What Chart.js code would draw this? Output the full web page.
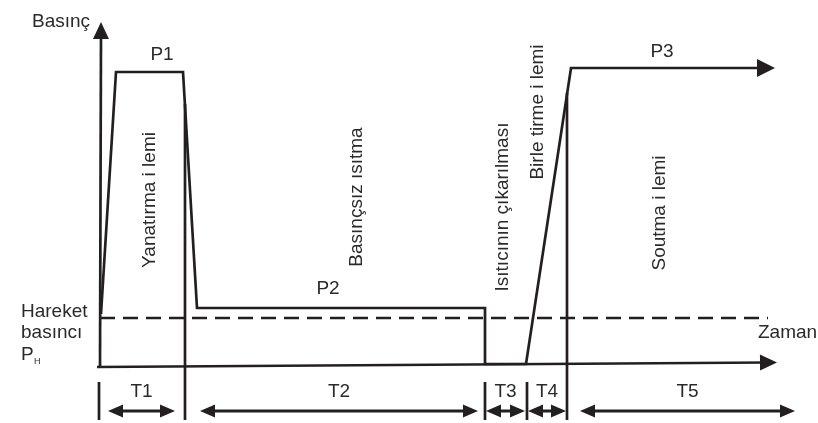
<!DOCTYPE html>
<html>
<head>
<meta charset="utf-8">
<script src="https://cdn.jsdelivr.net/npm/chart.js@4/dist/chart.umd.min.js"></script>
<style>
  html, body { margin: 0; padding: 0; background: #fff; }
  #wrap { width: 818px; height: 423px; }
</style>
</head>
<body>
<div id="wrap"><canvas id="weldChart"></canvas></div>
<script>
// Pressure profile (time units, pressure units)
const curveTime = [1, 16, 83, 97, 385, 385, 426, 471, 665];
const curvePressure = [52, 294, 294, 58, 58, 2, 2, 298, 298];

// axes of the diagram
const timeAxisT = [-3, 668];
const timeAxisP = [-1, 3.5];
const pressAxisT = [0, 1];
const pressAxisP = [-1, 335];

// hareket basinci (dashed)
const dragT = [0, 668];
const dragP = [48, 48];

// phase borders
const borderT = [85, 467];
const borderTop = [262, 273];
const tickT = [-1, 385, 427];
const tickTop = -16, borderBottom = -54;

// time spans under the axis
const spanLabels = ['T1', 'T2', 'T3', 'T4', 'T5'];
const spanStart = [8, 100, 386, 428, 480];
const spanEnd = [75, 378, 425, 466, 695];
const spanP = -45;

const phaseLabels = ['Yanatırma i lemi', 'Basınçsız ısıtma', 'Isıtıcının çıkarılması', 'Birle tirme i lemi', 'Soutma i lemi'];
const phaseT = [50, 257, 403, 438, 560];
const phaseP = [166, 169, 159, 254, 153];

const INK = '#231f20';
const FONT = '"Liberation Sans", Arial, sans-serif';

function xy(ts, ps) { return ts.map((t, i) => ({x: t, y: ps[i]})); }

function seg(data, extra) {
    return Object.assign({
        type: 'line', data: data, showLine: true, borderColor: INK, borderWidth: 2.7,
        pointRadius: 0, tension: 0, fill: false, borderCapStyle: 'butt', borderJoinStyle: 'miter'
    }, extra || {});
}

const datasets = [];
datasets.push(seg(xy(curveTime, curvePressure)));
datasets.push(seg(xy(timeAxisT, timeAxisP)));
datasets.push(seg(xy(pressAxisT, pressAxisP)));
datasets.push(seg(xy(dragT, dragP), {borderDash: [15, 8], borderWidth: 2.6}));
borderT.forEach((t, i) => datasets.push(seg([{x: t, y: borderTop[i]}, {x: t, y: borderBottom}])));
tickT.forEach(t => datasets.push(seg([{x: t, y: tickTop}, {x: t, y: borderBottom}])));
spanStart.forEach((s, i) => datasets.push(seg([{x: s + 6, y: spanP}, {x: spanEnd[i] - 6, y: spanP}], {borderWidth: 3})));

function head(ctx, x0, y0, x1, y1, len, half) {
    // tip at (x1,y1), pointing away from (x0,y0)
    const a = Math.atan2(y1 - y0, x1 - x0);
    ctx.save();
    ctx.translate(x1, y1);
    ctx.rotate(a);
    ctx.beginPath();
    ctx.moveTo(0, 0);
    ctx.lineTo(-len, -half);
    ctx.lineTo(-len, half);
    ctx.closePath();
    ctx.fill();
    ctx.restore();
}

const decor = {
    id: 'decor',
    afterDatasetsDraw(chart) {
        const {ctx, scales: {x, y}} = chart;
        const px = t => x.getPixelForValue(t), py = p => y.getPixelForValue(p);
        ctx.save();
        ctx.fillStyle = INK;

        // arrow heads
        head(ctx, px(pressAxisT[0]), py(pressAxisP[0]), px(pressAxisT[1]), py(pressAxisP[1]) - 9, 17, 8);
        head(ctx, px(timeAxisT[0]), py(timeAxisP[0]), px(timeAxisT[1]) + 9, py(timeAxisP[1]) - 0.1, 17, 8);
        const n = curveTime.length - 1;
        head(ctx, px(curveTime[n - 1]), py(curvePressure[n - 1]), px(curveTime[n]) + 10, py(curvePressure[n]), 18, 9);
        spanStart.forEach((s, i) => {
            head(ctx, px(spanEnd[i]), py(spanP), px(s), py(spanP), 15, 6.5);
            head(ctx, px(s), py(spanP), px(spanEnd[i]), py(spanP), 15, 6.5);
        });

        ctx.fillStyle = '#2a2a2a';
        ctx.font = '19px ' + FONT;
        ctx.textBaseline = 'alphabetic';
        ctx.textAlign = 'left';
        ctx.fillText('Basınç', px(-68), py(339));
        ctx.fillText('Zaman', px(658), py(28));
        ctx.fillText('Hareket', px(-79), py(49));
        ctx.fillText('basıncı', px(-79), py(28));
        ctx.fillText('P', px(-79), py(6));
        ctx.font = '9px ' + FONT;
        ctx.fillText('H', px(-66), py(2));

        ctx.font = '19px ' + FONT;
        ctx.textAlign = 'center';
        ctx.fillText('P1', px(62), py(306));
        ctx.fillText('P2', px(228), py(72));
        ctx.fillText('P3', px(562), py(309));
        spanLabels.forEach((lab, i) => {
            ctx.fillText(lab, px((spanStart[i] + spanEnd[i]) / 2), py(-31));
        });

        ctx.textBaseline = 'middle';
        phaseLabels.forEach((lab, i) => {
            ctx.save();
            ctx.translate(px(phaseT[i]), py(phaseP[i]));
            ctx.rotate(-Math.PI / 2);
            ctx.fillText(lab, 0, 0);
            ctx.restore();
        });
        ctx.restore();
    }
};

new Chart(document.getElementById('weldChart'), {
    type: 'scatter',
    data: {datasets: datasets},
    options: {
        responsive: true,
        maintainAspectRatio: false,
        animation: false,
        events: [],
        layout: {padding: 0},
        plugins: {legend: {display: false}, tooltip: {enabled: false}},
        scales: {
            x: {type: 'linear', min: -100, max: 718, display: false},
            y: {type: 'linear', min: -57, max: 366, display: false}
        }
    },
    plugins: [decor]
});
</script>
</body>
</html>
